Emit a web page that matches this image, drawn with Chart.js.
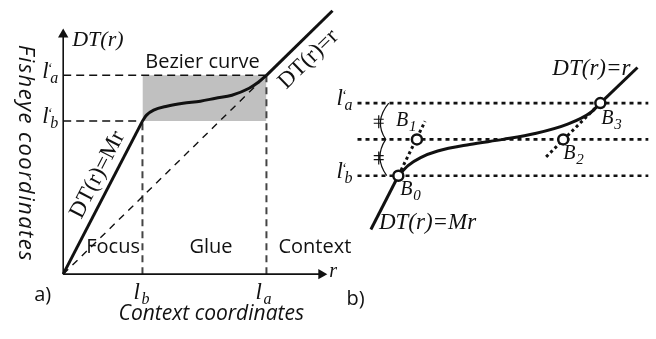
<!DOCTYPE html>
<html>
<head>
<meta charset="utf-8">
<script src="https://cdn.jsdelivr.net/npm/chart.js@4"></script>
<style>html,body{margin:0;background:#fff}canvas{display:block}</style>
</head>
<body>
<canvas id="c" width="656" height="339"></canvas>
<script>
// a) fisheye transfer function DT(r), units chosen so that l_a = l'_a = 2
const axisLen = [2.54, 2.41];               // r axis, DT axis
const lb = 0.78, la = 2.0;                  // context coordinates
const lbP = 1.54, laP = 2.0;                // fisheye coordinates
const focusPts = [[0, 0], [0.78, 1.54]];
const gluePts = [[0.78, 1.54], [0.82, 1.60], [0.89, 1.65], [1.02, 1.69], [1.18, 1.72], [1.35, 1.74],
                 [1.50, 1.77], [1.66, 1.80], [1.83, 1.87], [1.92, 1.93], [2.0, 2.0]];
const contextPts = [[2.0, 2.0], [2.65, 2.65]];

// b) close-up of the glue part, l'_b = 0 and l'_a = 1
const levelsB = [0, 0.5, 1];
const levelSpanB = [-0.55, 3.37];
const ctrlB = [[0, 0], [0.25, 0.5], [2.22, 0.5], [2.72, 1.0]];   // B0..B3
const curveB = [[0, 0], [0.13, 0.14], [0.30, 0.25], [0.53, 0.34], [0.96, 0.43], [1.41, 0.50],
                [1.84, 0.58], [2.28, 0.71], [2.59, 0.87], [2.72, 1.0]];
const mrB = [[-0.37, -0.74], [0, 0]];
const idB = [[2.72, 1.0], [3.22, 1.49]];
const tangentsB = [[[0, 0], [0.36, 0.75]], [[1.99, 0.26], [2.72, 1.0]]];

const ink = '#111';
const P = pts => pts.map(([x, y]) => ({ x, y }));

function seg(pts, panel, extra) {
  return Object.assign({
    data: P(pts), xAxisID: 'x' + panel, yAxisID: 'y' + panel,
    showLine: true, borderColor: ink, borderWidth: 3, pointRadius: 0, fill: false
  }, extra);
}

const arrow = rot => ({
  borderWidth: 1.6, pointRadius: [0, 6], pointStyle: 'triangle', pointRotation: [0, rot],
  pointBackgroundColor: ink, pointBorderWidth: 0
});

// first dataset is drawn on top
const datasets = [
  // panel b
  Object.assign(seg(ctrlB, 'b'), {
    showLine: false, pointRadius: 5, pointBackgroundColor: '#fff',
    pointBorderColor: ink, pointBorderWidth: 2.5
  }),
  seg(mrB, 'b'),
  seg(curveB, 'b', { cubicInterpolationMode: 'monotone' }),
  seg(idB, 'b'),
  ...tangentsB.map(t => seg(t, 'b', { borderWidth: 3, borderDash: [3, 3] })),
  ...levelsB.map(v => seg([[levelSpanB[0], v], [levelSpanB[1], v]], 'b', { borderWidth: 2.6, borderDash: [4, 4] })),

  // panel a
  seg([[0, 0], [axisLen[0], 0]], 'a', arrow(90)),
  seg([[0, 0], [0, axisLen[1]]], 'a', arrow(0)),
  seg(focusPts, 'a'),
  seg(gluePts, 'a', { cubicInterpolationMode: 'monotone' }),
  seg(contextPts, 'a'),
  seg([[0, 0], [la, laP]], 'a', { borderWidth: 1.4, borderDash: [7, 6] }),
  seg([[0, laP], [la, laP]], 'a', { borderWidth: 1.5, borderDash: [8, 5] }),
  seg([[0, lbP], [lb, lbP]], 'a', { borderWidth: 1.5, borderDash: [8, 5] }),
  seg([[lb, 0], [lb, lbP]], 'a', { borderColor: '#444', borderWidth: 2, borderDash: [7, 5] }),
  seg([[la, 0], [la, laP]], 'a', { borderColor: '#444', borderWidth: 2, borderDash: [7, 5] }),
  seg([[lb, laP], [la, laP]], 'a', { borderWidth: 0, fill: { value: lbP }, backgroundColor: '#c0c0c0' })
];

const notes = {
  id: 'notes',
  afterDatasetsDraw(chart) {
    const { ctx, scales: s } = chart;
    const A = (r, d) => [s.xa.getPixelForValue(r), s.ya.getPixelForValue(d)];
    const B = (u, v) => [s.xb.getPixelForValue(u), s.yb.getPixelForValue(v)];
    const serif = (px, it = true) => `${it ? 'italic ' : ''}${px}px "Liberation Serif"`;
    const sans = (px, it) => `${it ? 'italic ' : ''}${px}px "Open Sans"`;

    function text(str, x, y, font, align = 'left', rot = 0, dy = 0, base = 'alphabetic', spacing = 0) {
      ctx.save();
      ctx.translate(x, y);
      ctx.rotate(rot);
      ctx.font = font;
      ctx.fillStyle = ink;
      ctx.textAlign = align;
      ctx.textBaseline = base;
      if (spacing) ctx.letterSpacing = spacing + 'px';
      ctx.fillText(str, 0, dy);
      ctx.restore();
    }
    function ell(x, y, sub, prime) {
      text('l', x, y, serif(23));
      if (prime) text('\u2018', x + 5, y - 5, serif(14));
      text(sub, x + 8, y + 5, serif(16));
    }
    function bee(x, y, sub) {
      text('B', x, y, serif(20));
      text(sub, x + 13, y + 5, serif(15));
    }

    // ---- panel a
    let [x, y] = A(0, axisLen[1]);
    text('DT(r)', x + 9, y + 11, serif(22));
    [x, y] = A(0, laP); ell(x - 21, y + 3, 'a', true);
    [x, y] = A(0, lbP); ell(x - 21, y + 2, 'b', true);
    [x, y] = A(lb, 0); ell(x - 9, y + 25, 'b');
    [x, y] = A(la, 0); ell(x - 11, y + 25, 'a');
    [x, y] = A(axisLen[0], 0); text('r', x + 8, y + 3, serif(20));

    const [x0, y0] = A(0, 0);
    const xb = A(lb, 0)[0], xl = A(la, 0)[0];
    text('Bezier curve', (xb + xl) / 2 - 2, A(0, laP)[1] - 7, sans(20), 'center');
    text('Focus', x0 + 23, y0 - 21, sans(20));
    text('Glue', xb + 47, y0 - 21, sans(20));
    text('Context', xl + 12, y0 - 21, sans(20));
    text('a)', x0 - 29, y0 + 27, sans(20));
    text('Context coordinates', (x0 + A(axisLen[0], 0)[0]) / 2 + 19, y0 + 46, sans(21, true), 'center');
    text('Fisheye coordinates', x0 - 38, A(0, axisLen[1] / 2)[1] - 1, sans(22, true), 'center', Math.PI / 2, 0, 'middle', 1.4);

    // labels along the two straight pieces
    const [fx0, fy0] = A(...focusPts[0]), [fx1, fy1] = A(...focusPts[1]);
    const fAng = Math.atan2(fy1 - fy0, fx1 - fx0);
    [x, y] = A(0.47, 0.93);
    text('DT(r)=Mr', x, y, serif(23, false), 'center', fAng, -15, 'middle');
    const [cx0, cy0] = A(...contextPts[0]), [cx1, cy1] = A(...contextPts[1]);
    const cAng = Math.atan2(cy1 - cy0, cx1 - cx0);
    [x, y] = A(2.29, 2.29);
    text('DT(r)=r', x, y, serif(23, false), 'center', cAng, 18, 'middle');

    // ---- panel b
    [x, y] = B(levelSpanB[0], 1); ell(x - 21, y + 2, 'a', true);
    [x, y] = B(levelSpanB[0], 0); ell(x - 21, y + 2, 'b', true);
    text('b)', x - 11, y + 129, sans(20));

    const bOff = [[2, 19], [-21, -13], [0, 20], [1, 21]];
    ctrlB.forEach((p, i) => {
      const [px, py] = B(...p);
      bee(px + bOff[i][0], py + bOff[i][1], String(i));
    });
    [x, y] = B(...idB[1]); text('DT(r)=r', x - 7, y + 8, serif(23), 'right');
    [x, y] = B(...mrB[0]); text('DT(r)=Mr', x + 8, y, serif(23));

    // equal-spacing marks between the three levels
    const bx = B(-0.17, 0)[0];
    const [ya, ym, yl] = levelsB.slice().reverse().map(v => B(0, v)[1]);
    ctx.save();
    ctx.strokeStyle = ink;
    ctx.lineWidth = 1.2;
    ctx.beginPath();
    ctx.moveTo(bx + 3, ya);
    ctx.quadraticCurveTo(bx - 12, (ya + ym) / 2, bx, ym);
    ctx.quadraticCurveTo(bx - 12, (ym + yl) / 2, bx + 1, yl);
    [(ya + ym) / 2, (ym + yl) / 2].forEach(my => {
      ctx.moveTo(bx - 12, my - 2); ctx.lineTo(bx - 2, my - 2);
      ctx.moveTo(bx - 12, my + 2); ctx.lineTo(bx - 2, my + 2);
      ctx.moveTo(bx - 7, my - 6); ctx.lineTo(bx - 7, my + 7);
    });
    ctx.stroke();
    ctx.restore();
  }
};

new Chart(document.getElementById('c'), {
  type: 'scatter',
  data: { datasets },
  options: {
    responsive: false,
    animation: false,
    events: [],
    layout: { padding: 0 },
    plugins: { legend: { display: false }, tooltip: { enabled: false } },
    elements: { line: { tension: 0, borderCapStyle: 'butt' } },
    scales: {
      xa: { type: 'linear', display: false, min: -57 / 104, max: 599 / 104 },
      ya: { type: 'linear', display: false, min: -60 / 104, max: 279 / 104 },
      xb: { type: 'linear', display: false, min: -400 / 76, max: 256 / 76 },
      yb: { type: 'linear', display: false, min: -163 / 76, max: 176 / 76 }
    }
  },
  plugins: [notes]
});
</script>
</body>
</html>
